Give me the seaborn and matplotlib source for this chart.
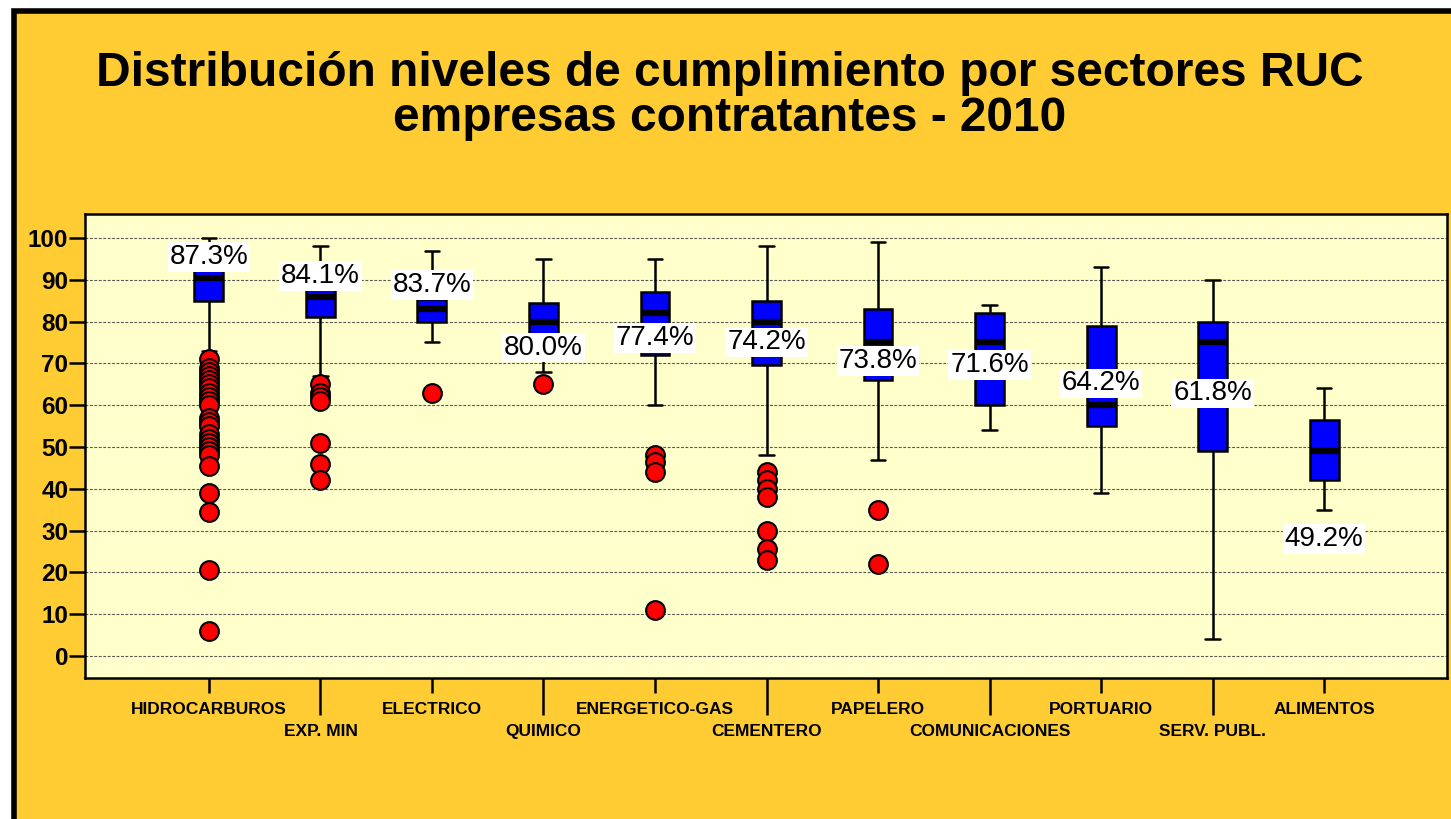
import numpy as np
import pandas as pd
import matplotlib
matplotlib.use('Agg')
import matplotlib.pyplot as plt
from matplotlib.patches import Rectangle
import seaborn as sns

sectores = ['HIDROCARBUROS', 'EXP. MIN', 'ELECTRICO', 'QUIMICO', 'ENERGETICO-GAS',
            'CEMENTERO', 'PAPELERO', 'COMUNICACIONES', 'PORTUARIO', 'SERV. PUBL.', 'ALIMENTOS']
# resumen de cinco numeros
bigote_inf = [73, 67, 75, 68, 60, 48, 47, 54, 39, 4, 35]
q1 = [85, 81, 80, 77, 72, 69.5, 66, 60, 55, 49, 42]
mediana = [90.5, 86, 83, 80, 82, 80, 75, 75, 60, 75, 49]
q3 = [93, 88, 85.5, 84.5, 87, 85, 83, 82, 79, 80, 56.5]
bigote_sup = [100, 98, 97, 95, 95, 98, 99, 84, 93, 90, 64]
promedio = [87.3, 84.1, 83.7, 80.0, 77.4, 74.2, 73.8, 71.6, 64.2, 61.8, 49.2]
atipicos = [
    [71, 69, 68, 67, 66, 65, 64, 63, 62, 61, 60, 57, 56, 55, 53, 52, 51, 50, 49, 48, 45.5, 39, 34.5, 20.5, 6],
    [65, 63, 62, 61, 51, 46, 42],
    [63],
    [65],
    [48, 46.5, 44, 11],
    [44, 42, 40, 38, 30, 25.5, 23],
    [35, 22],
    [], [], [], [],
]
# posicion vertical de las etiquetas de promedio
pos_etiqueta = [95.5, 91, 88.7, 73.8, 76.1, 75, 70.5, 69.7, 65.2, 62.8, 27.9]

filas = []
for i, s in enumerate(sectores):
    for v in (bigote_inf[i], q1[i], mediana[i], q3[i], bigote_sup[i]):
        filas.append((s, v))
cajas = pd.DataFrame(filas, columns=['sector', 'valor'])
out = pd.DataFrame([(s, v) for s, vals in zip(sectores, atipicos) for v in vals],
                   columns=['sector', 'valor'])

sns.set_style('ticks')
plt.rcParams['font.family'] = ['Liberation Sans', 'DejaVu Sans']
plt.rcParams['text.color'] = 'black'
plt.rcParams['xtick.color'] = 'black'
plt.rcParams['ytick.color'] = 'black'

fig = plt.figure(figsize=(14.51, 8.19), dpi=100, facecolor='white')
fig.patches.append(Rectangle((14 / 1451, -0.2), 1.2, 1.2 - 10.5 / 819, transform=fig.transFigure,
                             facecolor='#FFCC33', edgecolor='black', linewidth=4, zorder=-10))
ax = fig.add_axes([85 / 1451, 1 - 678 / 819, 1362 / 1451, 464 / 819])
ax.set_facecolor('#FFFFCC')

sns.boxplot(data=cajas, x='sector', y='valor', order=sectores, whis=(0, 100), width=0.26,
            color='#0000FF', saturation=1, linecolor='black', linewidth=1.8,
            medianprops={'linewidth': 4.5}, ax=ax)
sns.stripplot(data=out, x='sector', y='valor', order=sectores, jitter=False, color='#FF0000',
              edgecolor='black', linewidth=1.5, size=13.5, ax=ax, zorder=4)

for i, (m, p) in enumerate(zip(promedio, pos_etiqueta)):
    ax.text(i, p, f'{m:.1f}%', ha='center', va='center', fontsize=20, zorder=5,
            bbox=dict(facecolor='white', edgecolor='none', pad=1.5))

ax.set_xlim(-1.112, 11.103)
ax.set_ylim(-5.26, 105.74)
ax.set_yticks(range(0, 101, 10))
ax.set_yticklabels([str(t) for t in range(0, 101, 10)], fontsize=17.5, fontweight='bold')
ax.set_xticks(range(0, 11, 2), sectores[0::2], fontsize=12.5, fontweight='bold')
ax.set_xticks(range(1, 11, 2), sectores[1::2], minor=True, fontsize=12.5, fontweight='bold')
ax.tick_params(axis='x', which='major', length=10.8, width=1.8, pad=6.5, color='black')
ax.tick_params(axis='x', which='minor', length=26.6, width=1.8, pad=6.5, color='black')
ax.tick_params(axis='y', length=11.5, width=1.8, pad=0.5, color='black')
ax.set_xlabel('')
ax.set_ylabel('')
ax.yaxis.grid(True, linestyle=(0, (2.5, 1.5)), color='#555555', linewidth=0.8)
ax.set_axisbelow(True)
for sp in ax.spines.values():
    sp.set_visible(True)
    sp.set_linewidth(1.8)
    sp.set_color('black')

fig.text(0.503, 1 - 86 / 819, 'Distribución niveles de cumplimiento por sectores RUC',
         ha='center', va='baseline', fontsize=34.5, fontweight='bold', color='black')
fig.text(0.503, 1 - 130.7 / 819, 'empresas contratantes - 2010',
         ha='center', va='baseline', fontsize=34.5, fontweight='bold', color='black')

fig.savefig('out.png', dpi=100)
